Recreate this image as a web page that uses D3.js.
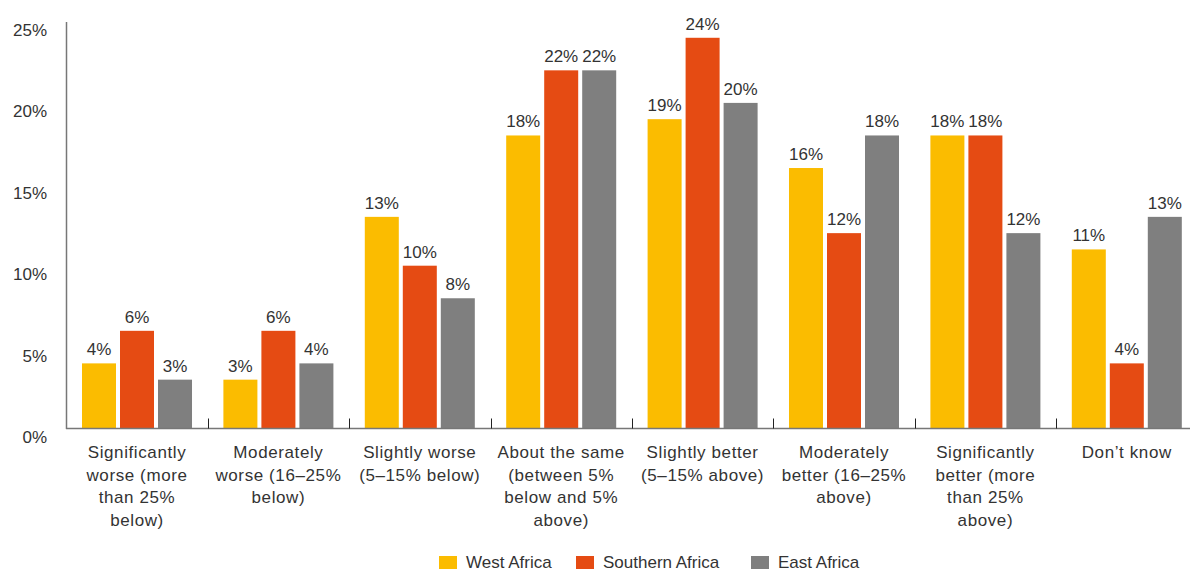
<!DOCTYPE html>
<html>
<head>
<meta charset="utf-8">
<script src="https://d3js.org/d3.v7.min.js"></script>
<style>
  body { margin: 0; background: #fff; }
  text { font-family: "Liberation Sans", Arial, sans-serif; fill: #333; }
</style>
</head>
<body>
<div id="chart"></div>
<script>
// categories (label lines) and series values, in %
var categories = [
  ["Significantly", "worse (more", "than 25%", "below)"],
  ["Moderately", "worse (16–25%", "below)"],
  ["Slightly worse", "(5–15% below)"],
  ["About the same", "(between 5%", "below and 5%", "above)"],
  ["Slightly better", "(5–15% above)"],
  ["Moderately", "better (16–25%", "above)"],
  ["Significantly", "better (more", "than 25%", "above)"],
  ["Don’t know"]
];
var seriesNames = ["West Africa", "Southern Africa", "East Africa"];
var westAfrica     = [4, 3, 13, 18, 19, 16, 18, 11];
var southernAfrica = [6, 6, 10, 22, 24, 12, 18, 4];
var eastAfrica     = [3, 4, 8, 22, 20, 18, 12, 13];
var yTicks = [0, 5, 10, 15, 20, 25];

var colors = ["#FBBC00", "#E54B13", "#7F7F7F"];
var seriesValues = [westAfrica, southernAfrica, eastAfrica];

var W = 1190, H = 572;
var svg = d3.select("#chart").append("svg")
    .attr("width", W)
    .attr("height", H);

var x0 = d3.scaleBand()
    .domain(d3.range(categories.length))
    .range([66.3, 1197.5])
    .padding(0);

var x1 = d3.scaleBand()
    .domain(d3.range(seriesNames.length))
    .range([0, x0.bandwidth()])
    .paddingInner(4 / 38)
    .paddingOuter(0.413);

var y = d3.scaleLinear()
    .domain([0, 25])
    .range([428.5, 21.5]);

// bars
var groups = svg.append("g")
  .selectAll("g")
  .data(categories)
  .enter().append("g")
    .attr("transform", function(d, i) { return "translate(" + x0(i) + ",0)"; });

groups.selectAll("rect")
  .data(function(d, i) { return seriesValues.map(function(s, k) { return {k: k, v: s[i]}; }); })
  .enter().append("rect")
    .attr("x", function(d) { return x1(d.k); })
    .attr("y", function(d) { return y(d.v); })
    .attr("width", x1.bandwidth())
    .attr("height", function(d) { return y(0) - y(d.v); })
    .attr("fill", function(d) { return colors[d.k]; });

// value labels
groups.selectAll("text.val")
  .data(function(d, i) { return seriesValues.map(function(s, k) { return {k: k, v: s[i]}; }); })
  .enter().append("text")
    .attr("class", "val")
    .attr("x", function(d) { return x1(d.k) + x1.bandwidth() / 2; })
    .attr("y", function(d) { return y(d.v) - 8; })
    .attr("text-anchor", "middle")
    .style("font-size", "17px")
    .text(function(d) { return d.v + "%"; });

// y axis
var yAxis = svg.append("g")
    .attr("transform", "translate(66,0)")
    .call(d3.axisLeft(y).tickValues(yTicks).tickFormat(function(d) { return d + "%"; })
      .tickSize(0).tickPadding(19).tickSizeOuter(0));
yAxis.select(".domain").attr("stroke", "#777").attr("stroke-width", 1.5);
yAxis.selectAll("text")
    .attr("dy", "0.32em")
    .attr("transform", "translate(0,8.5)")
    .style("font-size", "17px")
    .style("font-family", "'Liberation Sans', Arial, sans-serif")
    .attr("fill", "#333");

// baseline
svg.append("line")
    .attr("x1", 66).attr("x2", W)
    .attr("y1", y(0)).attr("y2", y(0))
    .attr("stroke", "#777").attr("stroke-width", 1.5);

// category separators
svg.append("g").selectAll("line")
  .data(d3.range(1, categories.length))
  .enter().append("line")
    .attr("x1", function(i) { return Math.round(x0(i)) + 0.5; })
    .attr("x2", function(i) { return Math.round(x0(i)) + 0.5; })
    .attr("y1", y(0) - 10)
    .attr("y2", y(0))
    .attr("stroke", "#222").attr("stroke-width", 1);

// category labels
var catText = svg.append("g").selectAll("text")
  .data(categories)
  .enter().append("text")
    .attr("text-anchor", "middle")
    .style("font-size", "17px")
    .style("letter-spacing", "0.6px")
    .attr("x", function(d, i) { return x0(i) + x0.bandwidth() / 2; })
    .attr("y", 458);
catText.selectAll("tspan")
  .data(function(d) { return d; })
  .enter().append("tspan")
    .attr("x", function() { return this.parentNode.getAttribute("x"); })
    .attr("dy", function(d, j) { return j === 0 ? 0 : 22.7; })
    .text(function(d) { return d; });

// legend
var legendX = [439, 576, 751];
var legend = svg.append("g").selectAll("g")
  .data(seriesNames)
  .enter().append("g")
    .attr("transform", function(d, i) { return "translate(" + legendX[i] + ",556)"; });
legend.append("rect")
    .attr("width", 18).attr("height", 13)
    .attr("fill", function(d, i) { return colors[i]; });
legend.append("text")
    .attr("x", 27).attr("y", 12)
    .style("font-size", "17px")
    .text(function(d) { return d; });
</script>
</body>
</html>
